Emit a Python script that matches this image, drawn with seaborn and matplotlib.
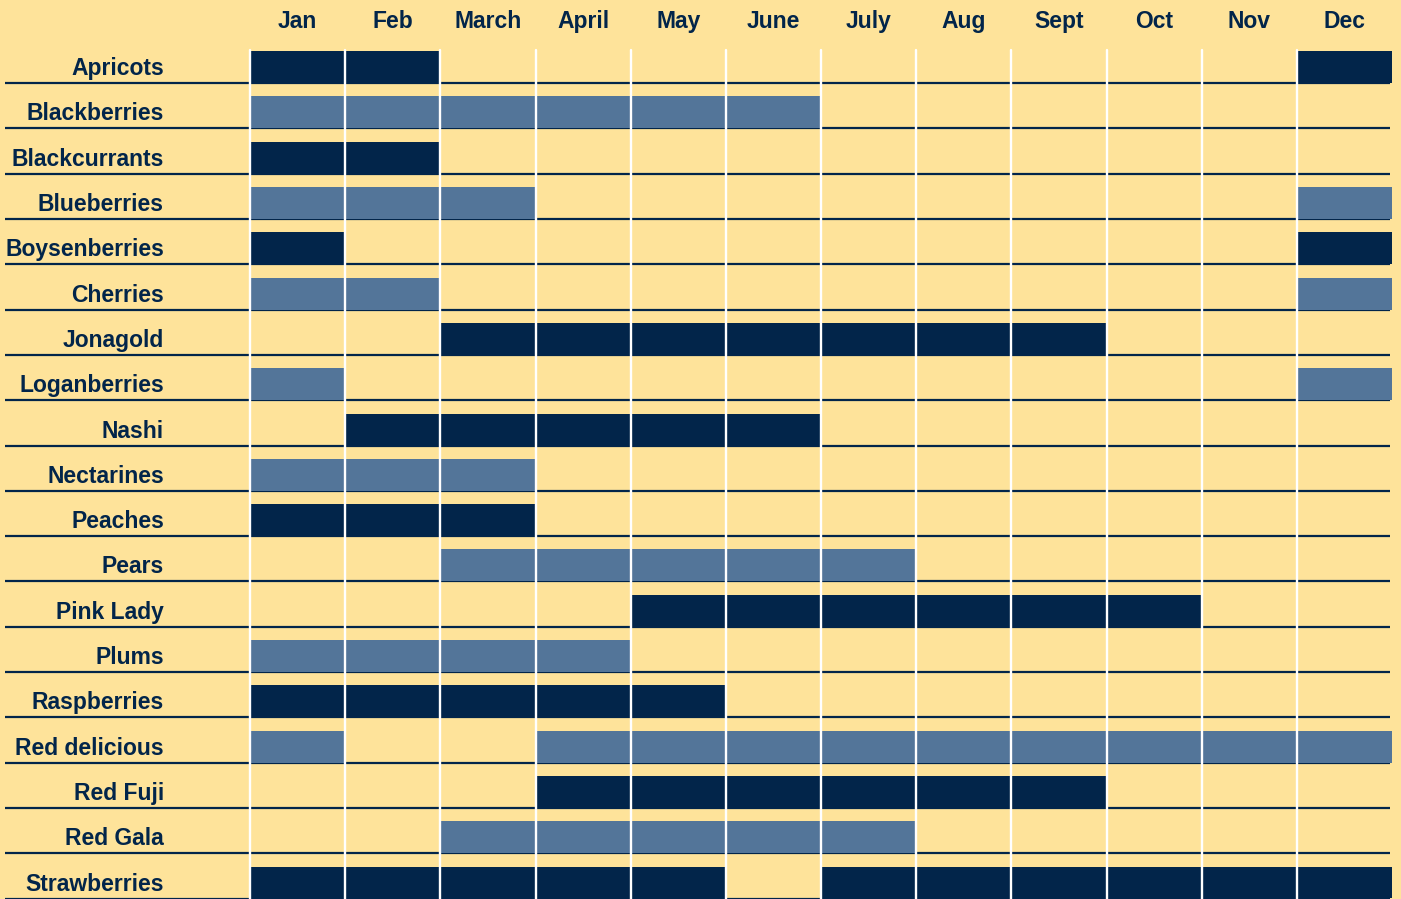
import pandas as pd
import numpy as np
import seaborn as sns
import matplotlib.pyplot as plt

# Months and fruits
months = ['Jan', 'Feb', 'March', 'April', 'May', 'June', 'July', 'Aug', 'Sept', 'Oct', 'Nov', 'Dec']
fruits = ['Apricots', 'Blackberries', 'Blackcurrants', 'Blueberries', 'Boysenberries', 'Cherries',
          'Jonagold', 'Loganberries', 'Nashi', 'Nectarines', 'Peaches', 'Pears', 'Pink Lady',
          'Plums', 'Raspberries', 'Red delicious', 'Red Fuji', 'Red Gala', 'Strawberries']

# Months in season (1 = Jan ... 12 = Dec)
apricots = [1, 2, 12]
blackberries = [1, 2, 3, 4, 5, 6]
blackcurrants = [1, 2]
blueberries = [1, 2, 3, 12]
boysenberries = [1, 12]
cherries = [1, 2, 12]
jonagold = [3, 4, 5, 6, 7, 8, 9]
loganberries = [1, 12]
nashi = [2, 3, 4, 5, 6]
nectarines = [1, 2, 3]
peaches = [1, 2, 3]
pears = [3, 4, 5, 6, 7]
pink_lady = [5, 6, 7, 8, 9, 10]
plums = [1, 2, 3, 4]
raspberries = [1, 2, 3, 4, 5]
red_delicious = [1, 4, 5, 6, 7, 8, 9, 10, 11, 12]
red_fuji = [4, 5, 6, 7, 8, 9]
red_gala = [3, 4, 5, 6, 7]
strawberries = [1, 2, 3, 4, 5, 7, 8, 9, 10, 11, 12]

season = [apricots, blackberries, blackcurrants, blueberries, boysenberries, cherries,
          jonagold, loganberries, nashi, nectarines, peaches, pears, pink_lady,
          plums, raspberries, red_delicious, red_fuji, red_gala, strawberries]

# Colours
bg = '#FEE39A'
navy = '#02254A'
steel = '#537599'

# Long format table of available fruit/month cells
rows = []
for i, (fruit, ms) in enumerate(zip(fruits, season)):
    for m in ms:
        rows.append({'fruit': fruit, 'row': i, 'month': m})
df = pd.DataFrame(rows)
df['color'] = np.where(df['row'] % 2 == 0, navy, steel)

sns.set_theme(style='white')
plt.rcParams['font.family'] = ['Liberation Sans', 'DejaVu Sans']

fig = plt.figure(figsize=(14.01, 8.99), dpi=100, facecolor=bg)
ax = fig.add_axes([250 / 1401, 0.5 / 899, 1142 / 1401, 860.7 / 899])
ax.set_facecolor(bg)

n = len(fruits)
bar_h = 0.706

# Row baselines
for i in range(n):
    ax.plot([-2.574, 11.98], [i + 1, i + 1], color=navy, lw=1.6, clip_on=False, zorder=1,
            solid_capstyle='butt')

# Cells
ax.barh(df['row'] + 1 - bar_h / 2, 1, left=df['month'] - 1, height=bar_h,
        color=df['color'], linewidth=0, zorder=2)

# White month separators
for k in range(12):
    ax.plot([k, k], [0.27, n], color='white', lw=1.7, zorder=3, clip_on=False)

# Labels
for i, fruit in enumerate(fruits):
    ax.text(-0.904, i + 0.68, fruit, ha='right', va='center', fontsize=16.5,
            fontweight='bold', color=navy, clip_on=False)
for k, mon in enumerate(months):
    ax.text(k + 0.5, -0.35, mon, ha='center', va='center', fontsize=16.5,
            fontweight='bold', color=navy, clip_on=False)

ax.set_xlim(0, 12)
ax.set_ylim(n, 0)
ax.axis('off')

fig.savefig('out.png', dpi=100, facecolor=bg)
